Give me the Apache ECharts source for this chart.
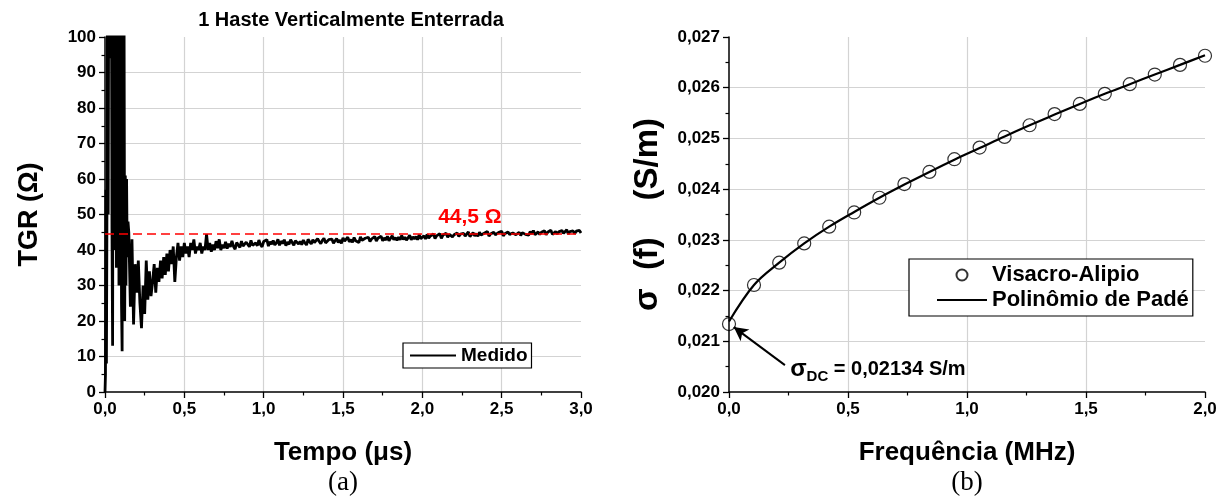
<!DOCTYPE html>
<html>
<head>
<meta charset="utf-8">
<script src="https://cdn.jsdelivr.net/npm/echarts@6/dist/echarts.min.js"></script>
<style>
  html, body { margin: 0; padding: 0; background: #fff; }
  #chart { width: 1227px; height: 498px; }
</style>
</head>
<body>
<div id="chart"></div>
<script>
// ---------- Data: panel (a) ----------
const chartTitleA = '1 Haste Verticalmente Enterrada';
const seriesNameA = 'Medido';
const tempoTickLabels = ['0,0', '0,5', '1,0', '1,5', '2,0', '2,5', '3,0'];
const tgrTickLabels = ['0', '10', '20', '30', '40', '50', '60', '70', '80', '90', '100'];
const refLevel = 44.5;
const refLabel = '44,5 Ω';

// early transient (µs, Ω)
const earlyTimes = [0.000, 0.003, 0.006, 0.009, 0.012, 0.016, 0.020, 0.024, 0.028, 0.032,
  0.036, 0.040, 0.044, 0.048, 0.052, 0.056, 0.060, 0.064, 0.068, 0.072,
  0.076, 0.080, 0.084, 0.088, 0.092, 0.096, 0.100, 0.104, 0.108, 0.112,
  0.116, 0.120, 0.124, 0.128, 0.132, 0.136, 0.140, 0.145];
const earlyValues = [0, 5, 57, 8, 46, 130, 50, 130, 96, 130,
  94, 130, 46, 13, 130, 48, 130, 40, 130, 35,
  130, 42, 130, 30, 130, 38, 130, 25, 11.5, 120,
  45, 110, 20, 61, 30, 60, 38, 48];

// later record, sampled every 0.01 µs from 0.15 µs
const lateStart = 0.15;
const lateStep = 0.01;
const lateValues = [
  45, 24, 43, 19, 36, 28, 37, 25, 18, 30,
  22, 37, 26, 34, 27, 31, 36, 28, 35, 31,
  37, 32, 38, 33, 39, 34, 40, 36, 41, 31,
  38, 42, 37, 41, 38, 42, 39, 41, 38, 42,
  40, 43, 39, 41, 40, 42, 39, 41, 40, 44.5,
  40, 42, 39.5, 41.5, 40, 42.5, 40.5, 43, 40, 41.5, 40.5,
  42.3, 40.4, 41.8, 40.9, 42.6, 41.0, 40.2, 42.1, 41.4, 40.7,
  42.5, 41.1, 40.6, 42.2, 41.8, 40.9, 42.7, 41.3, 40.8, 42.0,
  41.2, 42.8, 41.5, 40.9, 42.4, 41.9, 42.9, 41.1, 42.3, 41.6,
  42.7, 41.4, 42.0, 43.0, 41.3, 42.5, 41.8, 42.9, 41.2, 42.2,
  41.6, 42.9, 42.1, 41.3, 42.6, 43.1, 41.7, 42.4, 41.5, 42.8,
  42.0, 41.4, 43.0, 42.3, 41.7, 42.9, 42.1, 41.6, 43.2, 42.4,
  41.8, 42.7, 43.3, 42.0, 41.7, 42.9, 42.4, 43.1, 41.9, 42.6,
  43.2, 42.1, 42.8, 41.9, 43.4, 42.5, 42.0, 43.6, 42.3, 42.9,
  42.2, 43.5, 42.6, 43.0, 42.1, 43.7, 42.7, 42.4, 43.3, 42.8,
  43.6, 42.4, 43.1, 42.7, 43.8, 42.5, 43.3, 42.9, 43.9, 42.6,
  43.4, 42.8, 43.9, 42.6, 43.3, 44.0, 42.9, 43.5, 42.7, 43.6,
  42.9, 44.1, 43.0, 43.6, 42.8, 43.4, 44.2, 42.9, 43.7, 43.1,
  43.8, 42.9, 44.3, 43.2, 43.6, 44.0, 43.1, 44.4, 43.3, 43.9,
  43.4, 44.5, 43.2, 44.0, 43.7, 44.6, 43.3, 44.2, 43.9, 44.7,
  43.6, 44.4, 44.9, 43.7, 44.3, 44.0, 44.8, 43.8, 44.5, 44.1,
  44.7, 43.9, 44.4, 45.1, 43.8, 44.3, 44.9, 44.0, 44.6, 43.9,
  45.0, 44.2, 43.8, 44.7, 44.4, 45.2, 43.9, 44.5, 44.1, 45.0,
  44.3, 43.9, 44.9, 44.5, 45.3, 44.0, 44.6, 44.2, 45.1, 44.4,
  44.0, 44.8, 45.3, 44.3, 44.7, 45.0, 44.1, 44.9, 45.4, 44.4,
  44.9, 44.2, 45.2, 44.5, 45.5, 44.3, 44.8, 45.1, 44.4, 45.0,
  44.6, 45.4, 44.3, 45.0, 44.8, 45.6, 44.4, 44.9, 45.2, 44.5,
  45.1, 44.6, 45.5, 44.7, 45.0, 45.7, 44.5, 45.2, 44.9, 45.4,
  44.6, 45.3, 44.9, 45.5, 44.8
];

// ---------- Data: panel (b) ----------
const freqTickLabels = ['0,0', '0,5', '1,0', '1,5', '2,0'];
const sigmaTickLabels = ['0,020', '0,021', '0,022', '0,023', '0,024', '0,025', '0,026', '0,027'];
const seriesNameB1 = 'Visacro-Alipio';
const seriesNameB2 = 'Polinômio de Padé';
const freqs = [0.000, 0.105, 0.211, 0.316, 0.421, 0.526, 0.632, 0.737, 0.842, 0.947,
  1.053, 1.158, 1.263, 1.368, 1.474, 1.579, 1.684, 1.789, 1.895, 2.000];
const sigmaVA = [0.02134, 0.02211, 0.02255, 0.02293, 0.02326, 0.02354, 0.02383, 0.02410, 0.02434, 0.02459,
  0.02482, 0.02503, 0.02526, 0.02548, 0.02568, 0.02588, 0.02607, 0.02626, 0.02645, 0.02663];
const sigmaPade = [0.02139, 0.02211, 0.02255, 0.02293, 0.02326, 0.02355, 0.02383, 0.02409, 0.02434, 0.02458,
  0.02481, 0.02504, 0.02526, 0.02547, 0.02568, 0.02588, 0.02607, 0.02626, 0.02645, 0.02664];
const sigmaDCLabel = '{s|σ}{d|DC}{n| = 0,02134 S/m}';

// ---------- Build ----------
const tgrData = earlyTimes.map((t, i) => [t, earlyValues[i]])
  .concat(lateValues.map((v, i) => [+(lateStart + i * lateStep).toFixed(3), v]));
const vaData = freqs.map((f, i) => [f, sigmaVA[i]]);
const padeData = freqs.map((f, i) => [f, sigmaPade[i]]);

const FONT = '"Liberation Sans", Arial, Helvetica, sans-serif';
const SERIF = '"Liberation Serif", "DejaVu Serif", serif';
const black = '#000';
const gridColor = '#d3d3d3';

function axisCommon(extra) {
  return Object.assign({
    type: 'value',
    nameLocation: 'middle',
    nameTextStyle: { fontFamily: FONT, fontWeight: 'bold', fontSize: 26, color: black },
    axisLine: { show: true, onZero: false, lineStyle: { color: black, width: 1.5 } },
    axisTick: { show: true, inside: false, length: 6, lineStyle: { color: black, width: 1.3 } },
    minorTick: { show: true, splitNumber: 2, length: 3.5, lineStyle: { color: black, width: 1.2 } },
    splitLine: { show: true, showMinLine: false, showMaxLine: false, lineStyle: { color: gridColor, width: 1.2 } }
  }, extra);
}
function tickLabel(fmt) {
  return { fontFamily: FONT, fontWeight: 'bold', fontSize: 17, color: black, margin: 9, hideOverlap: false, formatter: fmt };
}

const chart = echarts.init(document.getElementById('chart'), null, { renderer: 'canvas' });

const option = {
  backgroundColor: '#fff',
  animation: false,
  title: {
    text: chartTitleA,
    left: 346,
    top: 5,
    textAlign: 'center',
    textStyle: { fontFamily: FONT, fontWeight: 'bold', fontSize: 20, color: black }
  },
  grid: [
    { left: 105, top: 37, width: 476, height: 355 },
    { left: 729, top: 37, width: 476, height: 355 }
  ],
  xAxis: [
    axisCommon({
      gridIndex: 0, min: 0, max: 3, interval: 0.5,
      name: 'Tempo (μs)', nameGap: 48,
      axisLabel: tickLabel(v => tempoTickLabels[Math.round(v / 0.5)])
    }),
    axisCommon({
      gridIndex: 1, min: 0, max: 2, interval: 0.5,
      name: 'Frequência (MHz)', nameGap: 48,
      axisLabel: tickLabel(v => freqTickLabels[Math.round(v / 0.5)])
    })
  ],
  yAxis: [
    axisCommon({
      gridIndex: 0, min: 0, max: 100, interval: 10,
      name: 'TGR (Ω)', nameGap: 62, nameRotate: 90,
      nameTextStyle: { fontFamily: FONT, fontWeight: 'bold', fontSize: 27, color: black },
      axisLabel: tickLabel(v => tgrTickLabels[Math.round(v / 10)])
    }),
    axisCommon({
      gridIndex: 1, min: 0.020, max: 0.027, interval: 0.001,
      name: 'σ  (f)    (S/m)', nameGap: 65, nameRotate: 90,
      nameTextStyle: { fontFamily: FONT, fontWeight: 'bold', fontSize: 33, color: black },
      axisLabel: tickLabel(v => sigmaTickLabels[Math.round((v - 0.020) / 0.001)])
    })
  ],
  legend: [
    {
      data: [{ name: seriesNameA, itemStyle: { opacity: 0 } }],
      left: 403, top: 343,
      orient: 'vertical',
      padding: [3, 4, 3, 6],
      itemWidth: 46, itemHeight: 12,
      borderColor: black, borderWidth: 1.2, borderRadius: 0,
      backgroundColor: '#fff',
      textStyle: { fontFamily: FONT, fontWeight: 'bold', fontSize: 19, color: black },
      selectedMode: false
    },
    {
      data: [{ name: seriesNameB1 }, { name: seriesNameB2, itemStyle: { opacity: 0 } }],
      left: 909, top: 259,
      orient: 'vertical',
      padding: [5, 4, 5, 27],
      itemGap: 3,
      itemWidth: 50, itemHeight: 11,
      borderColor: black, borderWidth: 1.2, borderRadius: 0,
      backgroundColor: '#fff',
      textStyle: { fontFamily: FONT, fontWeight: 'bold', fontSize: 22, color: black },
      selectedMode: false
    }
  ],
  series: [
    {
      name: seriesNameA,
      type: 'line',
      xAxisIndex: 0, yAxisIndex: 0,
      data: tgrData,
      symbol: 'none',
      showSymbol: false,
      clip: true,
      sampling: null,
      lineStyle: { color: black, width: 2.8 },
      itemStyle: { color: black },
      z: 3,
      markLine: {
        silent: true,
        symbol: ['none', 'none'],
        label: { show: false },
        lineStyle: { color: '#ff0000', type: [9, 5], width: 1.6 },
        data: [{ yAxis: refLevel }],
        z: 5
      },
      markPoint: {
        silent: true,
        symbol: 'circle',
        symbolSize: 1,
        itemStyle: { color: 'rgba(0,0,0,0)' },
        label: { show: true, position: 'inside', formatter: refLabel,
          fontFamily: FONT, fontWeight: 'bold', fontSize: 21, color: '#ff0000' },
        data: [{ coord: [2.3, 49.2] }]
      }
    },
    {
      name: seriesNameB2,
      type: 'line',
      xAxisIndex: 1, yAxisIndex: 1,
      data: padeData,
      smooth: 0.35,
      symbol: 'none',
      showSymbol: false,
      lineStyle: { color: black, width: 2.2 },
      itemStyle: { color: black },
      z: 4
    },
    {
      name: seriesNameB1,
      type: 'scatter',
      xAxisIndex: 1, yAxisIndex: 1,
      data: vaData,
      symbol: 'circle',
      symbolSize: 13,
      clip: false,
      itemStyle: { color: 'rgba(255,255,255,0)', borderColor: black, borderWidth: 1.2 },
      z: 3,
      markLine: {
        silent: true,
        symbol: ['none', 'arrow'],
        symbolSize: [11, 14],
        label: { show: false },
        lineStyle: { color: black, type: 'solid', width: 2 },
        data: [[{ coord: [0.235, 0.02053] }, { coord: [0.02, 0.02128] }]]
      },
      markPoint: {
        silent: true,
        symbol: 'circle',
        symbolSize: 1,
        itemStyle: { color: 'rgba(0,0,0,0)' },
        label: {
          show: true,
          position: 'right',
          distance: 0,
          formatter: sigmaDCLabel,
          rich: {
            s: { fontFamily: FONT, fontWeight: 'bold', fontSize: 24, color: black, verticalAlign: 'middle' },
            d: { fontFamily: FONT, fontWeight: 'bold', fontSize: 15, color: black, padding: [14, 0, 0, 0] },
            n: { fontFamily: FONT, fontWeight: 'bold', fontSize: 20, color: black, verticalAlign: 'middle' }
          }
        },
        data: [{ coord: [0.255, 0.02044] }]
      }
    }
  ],
  graphic: [
    { type: 'text', x: 343, y: 483, silent: true,
      style: { text: '(a)', fontFamily: SERIF, fontSize: 27, fill: black, align: 'center', verticalAlign: 'middle' } },
    { type: 'text', x: 967, y: 483, silent: true,
      style: { text: '(b)', fontFamily: SERIF, fontSize: 27, fill: black, align: 'center', verticalAlign: 'middle' } }
  ]
};

chart.setOption(option);
</script>
</body>
</html>
